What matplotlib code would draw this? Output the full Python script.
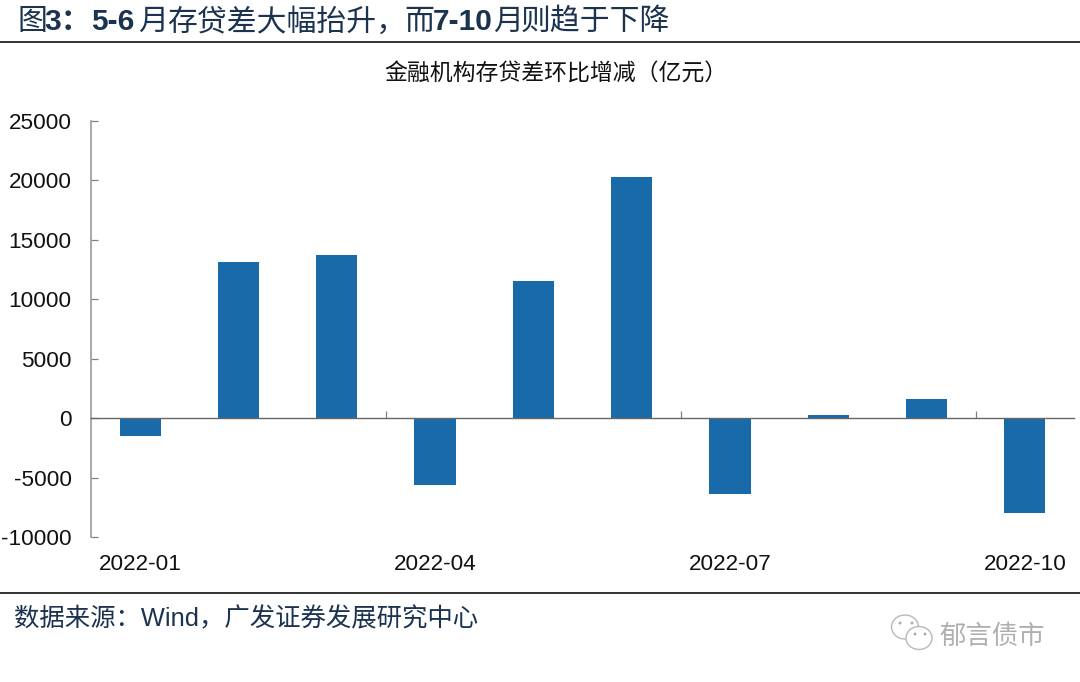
import matplotlib
matplotlib.use('Agg')
import matplotlib.pyplot as plt
from matplotlib.lines import Line2D
from matplotlib.patches import Ellipse

months = ['2022-01', '2022-02', '2022-03', '2022-04', '2022-05',
          '2022-06', '2022-07', '2022-08', '2022-09', '2022-10']
changes = [-1500, 13100, 13700, -5650, 11550, 20250, -6400, 300, 1600, -8000]
y_ticks = [-10000, -5000, 0, 5000, 10000, 15000, 20000, 25000]

W, H = 1080, 682
plt.rcParams['font.family'] = ['Liberation Sans', 'Noto Sans CJK SC']
plt.rcParams['axes.unicode_minus'] = False

fig = plt.figure(figsize=(W / 100, H / 100), dpi=100)
ax = fig.add_axes([91 / W, 1 - 537 / H, (1074 - 91) / W, (537 - 121) / H])

ax.bar(range(len(months)), changes, width=0.42, color='#186ba8')
ax.set_xlim(-0.5, len(months) - 0.5)
ax.set_ylim(-10000, 25000)

for s in ['top', 'right']:
    ax.spines[s].set_visible(False)
ax.spines['left'].set_color('#999999')
ax.spines['left'].set_linewidth(1.2)
ax.spines['bottom'].set_position(('data', 0))
ax.spines['bottom'].set_color('#666666')
ax.spines['bottom'].set_linewidth(1.0)

ax.set_yticks(y_ticks)
ax.tick_params(axis='y', direction='in', length=5, width=0.9, color='#808080',
               labelsize=16.2, pad=14, labelcolor='#111111')

# category ticks sit on the boundaries, labels go below the plot
ax.set_xticks([2.5, 5.5, 8.5])
ax.set_xticklabels([])
ax.tick_params(axis='x', direction='in', length=5, width=0.9, color='#808080')
for i in range(0, len(months), 3):
    ax.annotate(months[i], (i, -10000), xytext=(0, -12), textcoords='offset points',
                ha='center', va='top', fontsize=16.2, color='#111111')

# heading: latin digits are bold, chinese is not
heading = [(17, '图', 'normal'), (44, '3：', 'bold'), (91, '5-6', 'bold'), (138, '月', 'normal'),
           (167, '存贷差大幅抬升，', 'normal'), (404, '而', 'normal'), (433, '7-10', 'bold'),
           (493, '月', 'normal'), (521, '则趋于下降', 'normal')]
for x, txt, weight in heading:
    fig.text(x / W, 1 - 22 / H, txt, fontsize=21.5, fontweight=weight,
             color='#1c3350', va='center', ha='left')

fig.text(556 / W, 1 - 74 / H, '金融机构存贷差环比增减（亿元）', fontsize=16.5,
         color='#111111', va='center', ha='center')
fig.text(14 / W, 1 - 619 / H, '数据来源：Wind，广发证券发展研究中心', fontsize=18.3,
         color='#1c3350', va='center', ha='left')
fig.add_artist(Line2D([0, 1], [1 - 41.5 / H] * 2, color='#222222', lw=1.3))
fig.add_artist(Line2D([0, 1], [1 - 592.5 / H] * 2, color='#222222', lw=1.3))

# watermark
fig.text(939 / W, 1 - 637 / H, '郁言债市', fontsize=19, color='#b0b0b0',
         va='center', ha='left')
for cx, cy, w, h in [(905, 627, 27, 24), (919, 638, 26, 23)]:
    fig.add_artist(Ellipse((cx / W, 1 - cy / H), w / W, h / H, facecolor='white',
                           edgecolor='#b8b8b8', lw=1.0, transform=fig.transFigure))
for cx, cy in [(900, 623), (912, 623), (915, 634), (925, 634)]:
    fig.add_artist(Ellipse((cx / W, 1 - cy / H), 3 / W, 3 / H, facecolor='#b0b0b0',
                           edgecolor='none', transform=fig.transFigure))

fig.savefig('out.png', dpi=100)
